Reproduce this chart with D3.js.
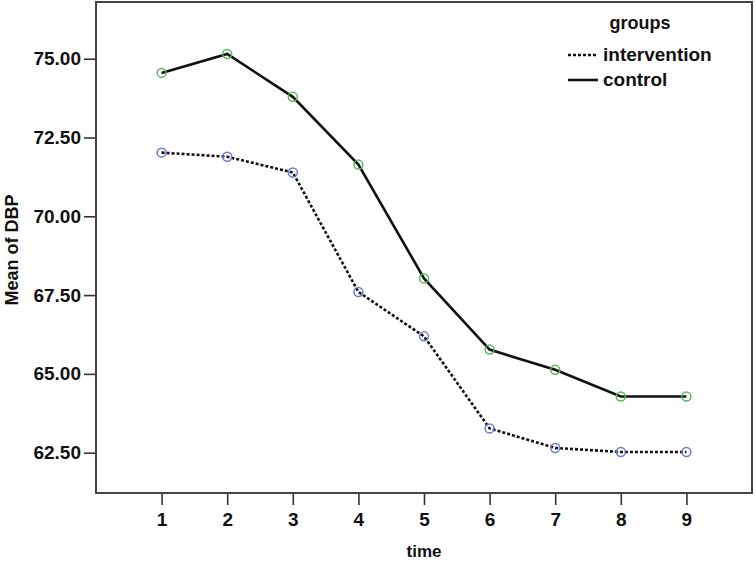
<!DOCTYPE html>
<html>
  <head>
    <meta charset="utf-8">
    <title>Mean of DBP by time</title>
    <script src="https://cdnjs.cloudflare.com/ajax/libs/d3/7.8.5/d3.min.js"></script>
    <style>
      body { margin: 0; background-color: #FFF }
      svg { display: block; background-color: #FFF }
      text { font-family: "Liberation Sans", Arial, sans-serif; font-weight: bold; fill: #111 }
    </style>
  </head>
  <body>
    <svg width="755" height="563"></svg>
    <script>
      // datos
      var times = [1, 2, 3, 4, 5, 6, 7, 8, 9];
      var intervention = [72.02, 71.89, 71.39, 67.60, 66.19, 63.27, 62.65, 62.52, 62.52];
      var control = [74.55, 75.15, 73.79, 71.64, 68.03, 65.77, 65.13, 64.28, 64.28];
      var yTicks = [62.5, 65, 67.5, 70, 72.5, 75];
      var groupNames = ["intervention", "control"];

      var svg = d3.select("svg");
      var plotLeft = 96, plotRight = 752, plotTop = 2, plotBottom = 493;

      var x = d3.scaleLinear().domain([0, 10]).range([plotLeft, plotRight]);
      var y = d3.scaleLinear().domain([61.22, 76.8]).range([plotBottom, plotTop]);

      // ejes
      svg.append("g")
        .attr("transform", "translate(" + plotLeft + ",0)")
        .call(d3.axisLeft(y).tickValues(yTicks).tickFormat(d3.format(".2f")).tickSize(12).tickPadding(3))
        .call(function(g) {
          g.select(".domain").remove();
          g.selectAll("line").attr("stroke", "#333").attr("stroke-width", 1.6);
          g.selectAll("text").style("font-size", "19px").attr("fill", "#111");
        });

      svg.append("g")
        .attr("transform", "translate(0," + plotBottom + ")")
        .call(d3.axisBottom(x).tickValues(times).tickFormat(d3.format("d")).tickSize(12).tickPadding(8))
        .call(function(g) {
          g.select(".domain").remove();
          g.selectAll("line").attr("stroke", "#333").attr("stroke-width", 1.6);
          g.selectAll("text").style("font-size", "19px").attr("fill", "#111");
        });

      // marco
      svg.append("rect")
        .attr("x", plotLeft).attr("y", plotTop)
        .attr("width", plotRight - plotLeft).attr("height", plotBottom - plotTop)
        .attr("fill", "none").attr("stroke", "#444").attr("stroke-width", 2);

      // titulos
      svg.append("text")
        .attr("x", x(5)).attr("y", 557)
        .attr("text-anchor", "middle")
        .style("font-size", "17px")
        .text("time");

      svg.append("text")
        .attr("transform", "translate(18,250) rotate(-90)")
        .attr("text-anchor", "middle")
        .style("font-size", "18px")
        .text("Mean of DBP");

      var line = d3.line()
        .x(function(d, i) { return x(times[i]); })
        .y(function(d) { return y(d); });

      var series = [
        { name: "intervention", values: intervention, dash: "3,2", color: "#6a7cd0" },
        { name: "control", values: control, dash: null, color: "#5cb85c" }
      ];

      series.forEach(function(s) {
        svg.append("path")
          .datum(s.values)
          .attr("d", line)
          .attr("fill", "none")
          .attr("stroke", "#111")
          .attr("stroke-width", 2.6)
          .attr("stroke-dasharray", s.dash);

        svg.selectAll(null)
          .data(s.values)
          .enter().append("circle")
          .attr("cx", function(d, i) { return x(times[i]); })
          .attr("cy", function(d) { return y(d); })
          .attr("r", 4.5)
          .attr("fill", "none")
          .attr("stroke", s.color)
          .attr("stroke-width", 1.5);
      });

      // leyenda
      svg.append("text")
        .attr("x", 640).attr("y", 29)
        .attr("text-anchor", "middle")
        .style("font-size", "18px")
        .text("groups");

      var legend = svg.selectAll(".legend")
        .data(series)
        .enter().append("g")
        .attr("transform", function(d, i) { return "translate(568," + (55 + i * 25) + ")"; });

      legend.append("line")
        .attr("x1", 0).attr("x2", 30)
        .attr("stroke", "#111")
        .attr("stroke-width", 2.6)
        .attr("stroke-dasharray", function(d) { return d.dash; });

      legend.append("text")
        .attr("x", 35).attr("y", 6)
        .style("font-size", "19px")
        .text(function(d, i) { return groupNames[i]; });
    </script>
  </body>
</html>
